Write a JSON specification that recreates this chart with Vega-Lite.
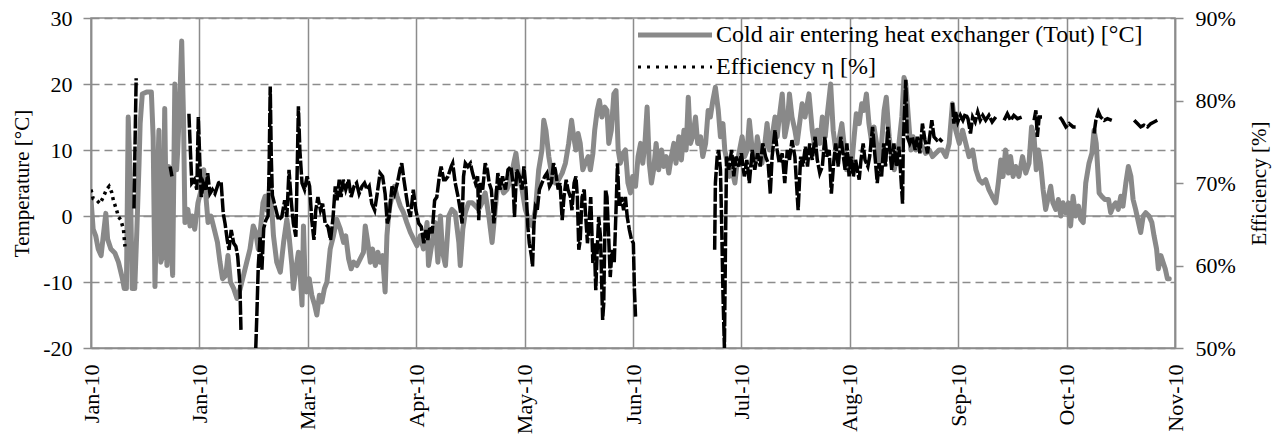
{
  "$schema": "https://vega.github.io/schema/vega-lite/v6.json",
  "width": 1084,
  "height": 330,
  "autosize": {"type": "none"},
  "padding": {"left": 91, "top": 18, "right": 108, "bottom": 90},
  "background": "white",
  "config": {
    "view": {"stroke": "#8c8c8c", "strokeWidth": 1.5},
    "font": "Liberation Serif",
    "axis": {
      "labelFont": "Liberation Serif", "titleFont": "Liberation Serif",
      "labelColor": "#000000", "titleColor": "#000000",
      "labelFontSize": 22, "titleFontSize": 21, "titleFontWeight": "normal",
      "domainColor": "#8c8c8c", "domainWidth": 1.5,
      "tickColor": "#8c8c8c", "tickWidth": 1.5, "tickSize": 8,
      "gridColor": "#8c8c8c", "gridWidth": 1.5, "labelFlush": false, "labelOverlap": false
    },
    "legend": {
      "labelFont": "Liberation Serif", "labelFontSize": 24, "labelColor": "#000000",
      "padding": 0, "labelLimit": 700
    }
  },
  "datasets": {
    "temp": [
      {"d":0,"t":2.5},{"d":0.6,"t":-2},{"d":1.3,"t":-3},{"d":2,"t":-5},{"d":2.8,"t":-6},{"d":3.4,"t":-3},{"d":4.1,"t":0.4},{"d":4.6,"t":-3.5},{"d":5.5,"t":-5},{"d":6.6,"t":-5.6},{"d":7.6,"t":-7},{"d":8.7,"t":-9.5},{"d":9.2,"t":-11},{"d":9.8,"t":-11},{"d":10.3,"t":15},{"d":10.9,"t":5},{"d":11.4,"t":-11},{"d":12.1,"t":-11},{"d":12.7,"t":-2},{"d":13.3,"t":8},{"d":13.6,"t":14},{"d":14.2,"t":18.5},{"d":15.4,"t":18.8},{"d":16.7,"t":18.8},{"d":17.2,"t":12},{"d":17.7,"t":-10.7},{"d":18.2,"t":2},{"d":18.8,"t":13},{"d":19.3,"t":-7},{"d":19.9,"t":-6},{"d":20.4,"t":16.3},{"d":21,"t":-7.5},{"d":21.5,"t":7.5},{"d":22.1,"t":-4},{"d":22.6,"t":-9},{"d":23.2,"t":20},{"d":23.7,"t":7},{"d":24,"t":10},{"d":24.6,"t":18},{"d":25.1,"t":26.5},{"d":25.6,"t":15},{"d":26,"t":-1},{"d":26.8,"t":1},{"d":27.4,"t":-1.5},{"d":28,"t":0},{"d":28.7,"t":-2},{"d":29.6,"t":2},{"d":30.5,"t":4},{"d":31.2,"t":7},{"d":31.8,"t":3},{"d":32.4,"t":-1},{"d":33.2,"t":0},{"d":34.1,"t":-2},{"d":35,"t":-4},{"d":35.7,"t":-7},{"d":36.4,"t":-9.5},{"d":37.3,"t":-9},{"d":37.9,"t":-6},{"d":38.6,"t":-10},{"d":39.5,"t":-11},{"d":40.4,"t":-12.5},{"d":41.3,"t":-11},{"d":42.2,"t":-9},{"d":43.1,"t":-7},{"d":44,"t":-5},{"d":44.9,"t":-1.5},{"d":45.6,"t":-2.5},{"d":46.3,"t":-5},{"d":46.9,"t":-2},{"d":47.6,"t":2},
      {"d":48.2,"t":3},{"d":48.7,"t":0.9},{"d":49.6,"t":5},{"d":50.5,"t":-3},{"d":51.4,"t":-7},{"d":52.4,"t":-8.5},{"d":53.3,"t":-4},{"d":54.2,"t":-0.5},{"d":54.8,"t":-3},{"d":55.6,"t":-7.5},{"d":56,"t":-11},{"d":56.7,"t":-8},{"d":57.4,"t":-5.5},{"d":57.9,"t":-9},{"d":58.4,"t":-13.5},{"d":58.8,"t":-1.5},{"d":59.3,"t":-10.5},{"d":59.7,"t":-11.5},{"d":60.4,"t":-9.5},{"d":61.1,"t":-12},{"d":61.9,"t":-13.5},{"d":62.5,"t":-15},{"d":63.2,"t":-12},{"d":63.9,"t":-13},{"d":64.6,"t":-11},{"d":65.3,"t":-10},{"d":66.2,"t":-5},{"d":67.1,"t":-3},{"d":68,"t":-0.5},{"d":69,"t":-2},{"d":69.9,"t":-4},{"d":70.5,"t":-3},{"d":71.3,"t":-6.5},{"d":72,"t":-8},{"d":72.7,"t":-7},{"d":73.6,"t":-7.5},{"d":74.5,"t":-6.5},{"d":75.4,"t":-5.5},{"d":75.9,"t":-1.5},{"d":76.6,"t":-4},{"d":77.3,"t":-7},{"d":77.9,"t":-5},{"d":78.7,"t":-7.5},{"d":79.4,"t":-5.5},{"d":80,"t":-7},{"d":80.7,"t":-6},{"d":81.4,"t":-11.5},{"d":81.9,"t":-3},{"d":82.5,"t":1},{"d":83.3,"t":3},{"d":84,"t":4.5},{"d":84.7,"t":3},{"d":85.6,"t":1.5},{"d":86.5,"t":0.5},{"d":87.4,"t":-1},{"d":88.4,"t":-2.5},{"d":89.3,"t":-3.5},{"d":90.2,"t":-4.5},{"d":91.1,"t":-3},{"d":92,"t":-5},{"d":93,"t":-1},{"d":93.4,"t":-7.5},{"d":94.4,"t":-4},{"d":95.3,"t":-1},{"d":96,"t":-7},{"d":96.7,"t":0},{"d":97.3,"t":-5.5},
      {"d":98.1,"t":-7.5},{"d":99,"t":0},{"d":99.9,"t":1},{"d":100.8,"t":0.5},{"d":101.8,"t":-4},{"d":102.2,"t":-7.5},{"d":102.9,"t":-2},{"d":103.6,"t":0.5},{"d":104.5,"t":2},{"d":105.5,"t":2},{"d":106.4,"t":1.5},{"d":107.3,"t":1},{"d":108.2,"t":2},{"d":109.1,"t":3.5},{"d":110.1,"t":0},{"d":111,"t":-4},{"d":111.7,"t":0},{"d":112.4,"t":4},{"d":113.3,"t":5},{"d":114.2,"t":3.5},{"d":115.1,"t":4},{"d":116.1,"t":5.5},{"d":117,"t":8},{"d":117.6,"t":9.5},{"d":118.4,"t":6},{"d":119.3,"t":4},{"d":120.2,"t":1},{"d":121.1,"t":-0.5},{"d":122.1,"t":-1.5},{"d":123,"t":1},{"d":123.9,"t":7},{"d":124.8,"t":10},{"d":125.3,"t":14.5},{"d":125.9,"t":13},{"d":126.7,"t":9},{"d":127.6,"t":6},{"d":128.5,"t":5},{"d":129.4,"t":5.5},{"d":130.4,"t":6.5},{"d":131.3,"t":8},{"d":132.2,"t":11},{"d":133,"t":14.5},{"d":133.6,"t":12},{"d":134.2,"t":10},{"d":134.8,"t":12.5},{"d":135.4,"t":11},{"d":136.1,"t":7},{"d":136.8,"t":8},{"d":137.6,"t":9},{"d":138.2,"t":7},{"d":138.9,"t":9.5},{"d":139.4,"t":13},{"d":140.1,"t":16},{"d":140.7,"t":17.5},{"d":141.4,"t":15},{"d":142.2,"t":16.5},{"d":142.8,"t":16},{"d":143.3,"t":11},{"d":144,"t":13},{"d":144.7,"t":18.5},{"d":145.3,"t":19},{"d":145.9,"t":10},{"d":146.5,"t":8},{"d":147.2,"t":9.5},
      {"d":147.9,"t":10},{"d":148.6,"t":5},{"d":149.3,"t":3.5},{"d":149.9,"t":6},{"d":150.7,"t":4.5},{"d":151.4,"t":9},{"d":152.1,"t":11},{"d":152.7,"t":8},{"d":153.3,"t":11},{"d":153.9,"t":16.5},{"d":154.5,"t":8},{"d":155.1,"t":5},{"d":155.7,"t":7},{"d":156.4,"t":11},{"d":157.1,"t":7},{"d":157.9,"t":10},{"d":158.5,"t":7.5},{"d":159.2,"t":9},{"d":159.9,"t":6.5},{"d":160.6,"t":9},{"d":161.3,"t":11},{"d":161.9,"t":8},{"d":162.7,"t":12},{"d":163.4,"t":8.5},{"d":164.1,"t":13},{"d":164.7,"t":10},{"d":165.3,"t":18},{"d":165.9,"t":11},{"d":166.5,"t":12},{"d":167.3,"t":15},{"d":167.9,"t":11},{"d":168.7,"t":12},{"d":169.3,"t":9},{"d":170.1,"t":11},{"d":170.8,"t":16},{"d":171.4,"t":15},{"d":172.1,"t":17.5},{"d":172.8,"t":19.5},{"d":173.6,"t":16},{"d":174.2,"t":12},{"d":174.9,"t":14},{"d":175.4,"t":10},{"d":176.1,"t":8},{"d":176.7,"t":6},{"d":177.4,"t":7},{"d":178.2,"t":5},{"d":178.8,"t":8},{"d":179.5,"t":10},{"d":180.2,"t":12},{"d":180.9,"t":9},{"d":181.6,"t":10},{"d":182.2,"t":14.5},{"d":183,"t":10},{"d":183.7,"t":8},{"d":184.4,"t":12},{"d":185,"t":10},{"d":185.7,"t":8},{"d":186.5,"t":11},{"d":187.1,"t":14},{"d":187.8,"t":10},{"d":188.5,"t":12},{"d":189.3,"t":15},{"d":189.9,"t":12},{"d":190.5,"t":15},{"d":191.3,"t":18.5},{"d":192,"t":12},{"d":192.7,"t":14},{"d":193.3,"t":18.5},{"d":194,"t":15},{"d":194.8,"t":13},{"d":195.4,"t":11},{"d":196.1,"t":14},{"d":196.8,"t":17},{"d":197.6,"t":15},
      {"d":198.7,"t":18.5},{"d":199.6,"t":13},{"d":200.4,"t":10},{"d":201,"t":13},{"d":201.7,"t":11},{"d":202.4,"t":15},{"d":203.2,"t":12},{"d":203.8,"t":15.5},{"d":204.7,"t":20},{"d":205.4,"t":13},{"d":206.1,"t":10},{"d":207,"t":11.5},{"d":207.8,"t":14},{"d":208.4,"t":11},{"d":209.1,"t":7},{"d":209.8,"t":9},{"d":210.5,"t":7.5},{"d":211.2,"t":12},{"d":211.8,"t":15.5},{"d":212.6,"t":14},{"d":213.3,"t":17},{"d":213.9,"t":16},{"d":214.6,"t":18.5},{"d":215.3,"t":14},{"d":216.1,"t":11},{"d":216.7,"t":13.5},{"d":217.4,"t":11},{"d":218.1,"t":8},{"d":218.8,"t":11},{"d":219.5,"t":16},{"d":220.1,"t":18},{"d":220.9,"t":12},{"d":221.6,"t":9},{"d":222.3,"t":7},{"d":222.9,"t":9},{"d":223.6,"t":11},{"d":224.4,"t":15},{"d":225,"t":21},{"d":225.5,"t":20},{"d":226.2,"t":15},{"d":226.9,"t":10},{"d":227.5,"t":12},{"d":228.3,"t":10},{"d":229.2,"t":11},{"d":230.1,"t":10.5},{"d":231,"t":9.5},{"d":232,"t":10},{"d":232.9,"t":9},{"d":233.8,"t":9.5},{"d":234.7,"t":10},{"d":235.6,"t":10},{"d":236.6,"t":9},{"d":237.5,"t":11},{"d":238.4,"t":17},{"d":239.3,"t":13},{"d":240.3,"t":11},{"d":241.2,"t":13},{"d":242.1,"t":11},{"d":243,"t":9},{"d":244,"t":10},{"d":244.9,"t":7},{"d":245.8,"t":5.5},{"d":246.7,"t":5},
      {"d":247.6,"t":5.5},{"d":248.5,"t":4},{"d":249.4,"t":3},{"d":250.4,"t":2},{"d":251.1,"t":5},{"d":251.8,"t":8.5},{"d":252.4,"t":6},{"d":253.1,"t":10},{"d":253.9,"t":6.5},{"d":254.5,"t":9},{"d":255.2,"t":6},{"d":255.9,"t":7.5},{"d":256.8,"t":6},{"d":257.8,"t":9},{"d":258.7,"t":6.5},{"d":259.6,"t":8},{"d":260.3,"t":13.5},{"d":261,"t":12},{"d":261.6,"t":7},{"d":262.2,"t":10},{"d":262.8,"t":8},{"d":263.5,"t":4},{"d":264.2,"t":1},{"d":265,"t":3},{"d":265.6,"t":4.5},{"d":266.2,"t":2},{"d":267,"t":1},{"d":267.7,"t":2.5},{"d":268.4,"t":0},{"d":269,"t":2},{"d":269.8,"t":0.5},{"d":270.5,"t":2},{"d":271.1,"t":-1.5},{"d":271.8,"t":3},{"d":272.5,"t":0},{"d":273.3,"t":1.5},{"d":273.9,"t":-0.5},{"d":274.6,"t":-1},{"d":275.3,"t":5},{"d":276.2,"t":8},{"d":277,"t":9.5},{"d":277.6,"t":13},{"d":278.2,"t":11},{"d":279,"t":3.5},{"d":279.7,"t":3},{"d":280.6,"t":2.5},{"d":281.6,"t":2.5},{"d":282.2,"t":0.5},{"d":282.9,"t":1.5},{"d":283.6,"t":2},{"d":284.3,"t":1},{"d":285,"t":3},{"d":285.6,"t":1.5},{"d":286.4,"t":5},{"d":287.1,"t":7.5},{"d":287.8,"t":6},{"d":288.4,"t":2.5},{"d":289.1,"t":1},{"d":289.9,"t":-1},{"d":290.5,"t":-2.5},{"d":291.2,"t":0},{"d":291.9,"t":0.5},{"d":292.8,"t":0},{"d":293.6,"t":-1},{"d":294.2,"t":-3},{"d":294.9,"t":-5},{"d":295.4,"t":-8},{"d":296.1,"t":-6},{"d":296.7,"t":-7},{"d":297.3,"t":-8},{"d":297.9,"t":-9.5},{"d":298.4,"t":-9.5}
    ],
    "eff": [
      {"d":0,"e":69.2,"g":1},{"d":0.6,"e":68.1,"g":1},{"d":1.6,"e":67.9,"g":1},{"d":2.5,"e":67.5,"g":1},{"d":3.4,"e":68.3,"g":1},{"d":4.3,"e":69.2,"g":1},{"d":5,"e":69.6,"g":1},{"d":5.7,"e":68.9,"g":1},{"d":6.2,"e":67.9,"g":1},{"d":7.1,"e":66.7,"g":1},{"d":7.6,"e":65.9,"g":1},{"d":8.3,"e":65.5,"g":1},{"d":9,"e":64.3,"g":1},{"d":9.4,"e":62.3,"g":1},
      {"d":11.9,"e":66.9,"g":2},{"d":12.2,"e":75,"g":2},{"d":12.5,"e":82.7,"g":2},
      {"d":21.9,"e":72,"g":3},{"d":22.4,"e":70.8,"g":3},
      {"d":27.1,"e":78.4,"g":4},{"d":27.5,"e":74,"g":4},{"d":27.9,"e":70,"g":4},{"d":28.6,"e":70.4,"g":4},{"d":29.3,"e":69.2,"g":4},{"d":29.7,"e":78,"g":4},{"d":30.1,"e":72.8,"g":4},{"d":30.5,"e":68.3,"g":4},{"d":31.1,"e":70,"g":4},{"d":31.8,"e":69.2,"g":4},{"d":32.3,"e":71.2,"g":4},{"d":32.9,"e":68.7,"g":4},{"d":33.6,"e":69.2,"g":4},{"d":34.3,"e":68.7,"g":4},{"d":35.3,"e":70,"g":4},{"d":36,"e":70.2,"g":4},{"d":36.6,"e":66.3,"g":4},{"d":37.1,"e":65.1,"g":4},{"d":37.7,"e":63.1,"g":4},{"d":38.2,"e":61.9,"g":4},{"d":38.8,"e":64.3,"g":4},{"d":39.5,"e":62.7,"g":4},{"d":40.1,"e":62.3,"g":4},{"d":40.6,"e":61.1,"g":4},{"d":41.2,"e":57.8,"g":4},{"d":41.5,"e":52.2,"g":4},
      {"d":45.6,"e":50,"g":5},{"d":45.9,"e":54,"g":5},{"d":46.3,"e":60,"g":5},{"d":46.8,"e":63.5,"g":5},{"d":47.3,"e":59.5,"g":5},{"d":47.8,"e":64.5,"g":5},{"d":48.4,"e":65.5,"g":5},{"d":49,"e":66,"g":5},{"d":49.3,"e":72,"g":5},{"d":49.6,"e":81.7,"g":5},{"d":49.9,"e":73,"g":5},{"d":50.2,"e":68.5,"g":5},{"d":51,"e":67.1,"g":5},{"d":51.9,"e":65.5,"g":5},{"d":52.8,"e":65.9,"g":5},{"d":53.6,"e":67.9,"g":5},{"d":54.2,"e":65.9,"g":5},{"d":54.8,"e":71.6,"g":5},{"d":55.4,"e":67.9,"g":5},{"d":56,"e":65.1,"g":5},{"d":56.7,"e":63.5,"g":5},{"d":57.1,"e":72.4,"g":5},{"d":57.4,"e":79.3,"g":5},{"d":57.8,"e":74,"g":5},{"d":58.4,"e":70,"g":5},{"d":59.1,"e":69.2,"g":5},{"d":59.8,"e":70.8,"g":5},{"d":60.5,"e":69.6,"g":5},{"d":61.1,"e":65.5,"g":5},{"d":61.7,"e":63.1,"g":5},{"d":62.2,"e":66.7,"g":5},{"d":62.8,"e":68.3,"g":5},{"d":63.5,"e":66.7,"g":5},{"d":64.1,"e":67.5,"g":5},{"d":64.8,"e":65.1,"g":5},{"d":65.6,"e":64.7,"g":5},{"d":66.3,"e":63.1,"g":5},{"d":67,"e":65.9,"g":5},{"d":67.6,"e":69.6,"g":5},{"d":68.1,"e":67.9,"g":5},{"d":68.7,"e":70.4,"g":5},{"d":69.2,"e":68.3,"g":5},{"d":69.8,"e":70.4,"g":5},{"d":70.5,"e":69.2,"g":5},{"d":71.3,"e":70.4,"g":5},{"d":72,"e":68.3,"g":5},{"d":72.8,"e":69.6,"g":5},{"d":73.5,"e":70,"g":5},{"d":74.2,"e":68.7,"g":5},{"d":75,"e":69.6,"g":5},{"d":75.7,"e":70,"g":5},{"d":76.4,"e":69.2,"g":5},{"d":77,"e":69.6,"g":5},{"d":77.7,"e":67.5,"g":5},{"d":78.5,"e":66.7,"g":5},{"d":79.2,"e":68.7,"g":5},{"d":80,"e":71.2,"g":5},{"d":80.7,"e":70.8,"g":5},{"d":81.4,"e":68.7,"g":5},{"d":82,"e":65.1,"g":5},{"d":82.5,"e":65.9,"g":5},{"d":83.3,"e":69.6,"g":5},{"d":84,"e":68.7,"g":5},{"d":84.8,"e":70,"g":5},{"d":85.5,"e":71.6,"g":5},{"d":86,"e":72.4,"g":5},{"d":86.6,"e":70.4,"g":5},{"d":87.3,"e":68.3,"g":5},{"d":87.9,"e":66.7,"g":5},{"d":88.4,"e":65.9,"g":5},{"d":89.2,"e":69.2,"g":5},{"d":89.9,"e":66.7,"g":5},{"d":90.7,"e":65.1,"g":5},{"d":91.4,"e":64.7,"g":5},{"d":92.1,"e":62.7,"g":5},{"d":92.7,"e":64.3,"g":5},{"d":93.2,"e":63.1,"g":5},{"d":93.8,"e":64.7,"g":5},{"d":94.4,"e":63.9,"g":5},{"d":95.1,"e":67.9,"g":5},{"d":95.7,"e":68.3,"g":5},{"d":96.4,"e":70.8,"g":5},{"d":96.9,"e":72,"g":5},{"d":97.6,"e":70.4,"g":5},
      {"d":98.1,"e":70.4,"g":5},{"d":98.8,"e":70.8,"g":5},{"d":99.7,"e":72,"g":5},{"d":100.1,"e":72.4,"g":5},{"d":100.8,"e":70,"g":5},{"d":101.6,"e":68.3,"g":5},{"d":102.2,"e":66.7,"g":5},{"d":102.7,"e":65.1,"g":5},{"d":103.1,"e":70.8,"g":5},{"d":103.6,"e":72.4,"g":5},{"d":104.3,"e":72,"g":5},{"d":105,"e":72.4,"g":5},{"d":105.6,"e":71.2,"g":5},{"d":106.4,"e":70,"g":5},{"d":107,"e":70.8,"g":5},{"d":107.3,"e":65.5,"g":5},{"d":107.8,"e":70,"g":5},{"d":108.4,"e":69.2,"g":5},{"d":109.1,"e":72.4,"g":5},{"d":109.7,"e":71.6,"g":5},{"d":110.2,"e":70,"g":5},{"d":110.8,"e":69.2,"g":5},{"d":111.5,"e":65.1,"g":5},{"d":112.1,"e":68.3,"g":5},{"d":112.6,"e":71.2,"g":5},{"d":113.2,"e":69.2,"g":5},{"d":113.9,"e":70.8,"g":5},{"d":114.7,"e":69.2,"g":5},{"d":115.4,"e":71.6,"g":5},{"d":116.2,"e":72,"g":5},{"d":116.8,"e":70,"g":5},{"d":117.2,"e":65.9,"g":5},{"d":117.8,"e":71.6,"g":5},{"d":118.6,"e":70.8,"g":5},{"d":119.3,"e":69.2,"g":5},{"d":119.8,"e":72,"g":5},{"d":120.4,"e":69.2,"g":5},{"d":120.9,"e":64.7,"g":5},{"d":121.3,"e":62.7,"g":5},{"d":121.9,"e":61.1,"g":5},{"d":122.2,"e":59.9,"g":5},{"d":122.6,"e":65.1,"g":5},{"d":123,"e":67.1,"g":5},{"d":123.5,"e":66.7,"g":5},{"d":124.1,"e":69.2,"g":5},{"d":124.8,"e":70,"g":5},{"d":125.6,"e":70.8,"g":5},{"d":126.2,"e":71.2,"g":5},{"d":126.9,"e":69.6,"g":5},{"d":127.4,"e":70,"g":5},{"d":128,"e":72.4,"g":5},{"d":128.5,"e":71.6,"g":5},{"d":129.3,"e":69.2,"g":5},{"d":129.8,"e":70,"g":5},{"d":130.4,"e":65.5,"g":5},{"d":130.9,"e":68.3,"g":5},{"d":131.5,"e":70.4,"g":5},{"d":132,"e":69.2,"g":5},{"d":132.7,"e":68.3,"g":5},{"d":133.1,"e":66.7,"g":5},{"d":133.7,"e":70,"g":5},{"d":134.2,"e":70.8,"g":5},{"d":134.6,"e":68.3,"g":5},{"d":135,"e":61.9,"g":5},{"d":135.4,"e":63.1,"g":5},{"d":135.9,"e":68.3,"g":5},{"d":136.5,"e":69.2,"g":5},{"d":136.8,"e":66.7,"g":5},{"d":137.4,"e":62.7,"g":5},{"d":137.8,"e":64.7,"g":5},{"d":138.3,"e":68.3,"g":5},{"d":138.9,"e":60.3,"g":5},{"d":139.3,"e":62.7,"g":5},{"d":139.7,"e":57,"g":5},{"d":140.1,"e":61.9,"g":5},{"d":140.5,"e":65.9,"g":5},{"d":141,"e":63.5,"g":5},{"d":141.6,"e":53.4,"g":5},{"d":141.9,"e":55.4,"g":5},{"d":142.4,"e":69.2,"g":5},{"d":142.8,"e":68.3,"g":5},{"d":143.3,"e":63.1,"g":5},{"d":143.7,"e":58.6,"g":5},{"d":144.2,"e":61.9,"g":5},{"d":144.8,"e":60.3,"g":5},{"d":145.3,"e":66.7,"g":5},{"d":145.7,"e":72.4,"g":5},{"d":146.2,"e":67.1,"g":5},{"d":146.8,"e":68.3,"g":5},{"d":147.4,"e":66.7,"g":5},{"d":147.9,"e":68.3,"g":5},{"d":148.4,"e":65.9,"g":5},{"d":149,"e":64.3,"g":5},{"d":149.6,"e":63.1,"g":5},{"d":150.1,"e":62.7,"g":5},{"d":150.4,"e":57,"g":5},{"d":150.7,"e":53.8,"g":5},
      {"d":172.6,"e":61.9,"g":6},{"d":172.8,"e":70,"g":6},{"d":173.3,"e":73.2,"g":6},{"d":173.7,"e":74,"g":6},{"d":174.2,"e":71.6,"g":6},{"d":174.5,"e":65.9,"g":6},{"d":174.9,"e":56.6,"g":6},{"d":175.3,"e":50,"g":6},{"d":175.6,"e":62.7,"g":6},{"d":175.9,"e":73.2,"g":6},{"d":176.5,"e":71.6,"g":6},{"d":177.3,"e":74,"g":6},{"d":177.9,"e":70.8,"g":6},{"d":178.5,"e":73.2,"g":6},{"d":179.3,"e":72,"g":6},{"d":180,"e":73.6,"g":6},{"d":180.8,"e":70.8,"g":6},{"d":181.5,"e":72.8,"g":6},{"d":182.2,"e":70,"g":6},{"d":183,"e":74,"g":6},{"d":183.7,"e":71.6,"g":6},{"d":184.5,"e":73.6,"g":6},{"d":185.2,"e":72,"g":6},{"d":185.9,"e":74.8,"g":6},{"d":186.7,"e":73.2,"g":6},{"d":187.4,"e":72.4,"g":6},{"d":188,"e":68.7,"g":6},{"d":188.5,"e":73.2,"g":6},{"d":189.3,"e":76.4,"g":6},{"d":189.9,"e":74,"g":6},{"d":190.5,"e":72.4,"g":6},{"d":191.3,"e":73.6,"g":6},{"d":192,"e":70,"g":6},{"d":192.7,"e":74,"g":6},{"d":193.3,"e":72.8,"g":6},{"d":194,"e":75.2,"g":6},{"d":194.8,"e":73.2,"g":6},{"d":195.7,"e":66.7,"g":6},{"d":196.4,"e":73.2,"g":6},{"d":197,"e":72,"g":6},{"d":197.7,"e":74.4,"g":6},{"d":198.3,"e":72,"g":6},{"d":198.9,"e":74.8,"g":6},{"d":199.6,"e":72.8,"g":6},{"d":200.4,"e":75.6,"g":6},{"d":201,"e":72.8,"g":6},{"d":201.7,"e":71.2,"g":6},{"d":202.4,"e":72,"g":6},{"d":203.1,"e":75.6,"g":6},{"d":203.6,"e":73.2,"g":6},{"d":204.3,"e":74,"g":6},{"d":204.9,"e":68.7,"g":6},{"d":205.6,"e":72.8,"g":6},{"d":206.1,"e":74.8,"g":6},{"d":206.8,"e":72,"g":6},{"d":207.5,"e":75.6,"g":6},{"d":208.1,"e":73.6,"g":6},{"d":208.7,"e":71.6,"g":6},{"d":209.2,"e":74.8,"g":6},{"d":209.8,"e":70.8,"g":6},{"d":210.4,"e":73.2,"g":6},{"d":211,"e":70.8,"g":6},{"d":211.6,"e":72.8,"g":6},{"d":212.6,"e":70.4,"g":6},{"d":213.1,"e":72.8,"g":6},{"d":213.7,"e":74.8,"g":6},{"d":214.2,"e":72.8,"g":6},{"d":215,"e":72,"g":6},{"d":215.5,"e":73.2,"g":6},{"d":216.3,"e":76.8,"g":6},{"d":216.9,"e":73.6,"g":6},{"d":217.6,"e":70,"g":6},{"d":218.1,"e":72.4,"g":6},{"d":218.8,"e":70.8,"g":6},{"d":219.4,"e":74.8,"g":6},{"d":219.9,"e":72,"g":6},{"d":220.5,"e":76.8,"g":6},{"d":221.1,"e":74,"g":6},{"d":221.6,"e":71.6,"g":6},{"d":222.2,"e":74.8,"g":6},{"d":222.9,"e":72,"g":6},{"d":223.6,"e":74.4,"g":6},{"d":224.6,"e":67.5,"g":6},{"d":224.8,"e":74.8,"g":6},{"d":225.5,"e":82.5,"g":6},{"d":225.9,"e":75.6,"g":6},{"d":226.6,"e":74.8,"g":6},{"d":227.3,"e":75.6,"g":6},{"d":228.1,"e":74,"g":6},{"d":228.7,"e":75.6,"g":6},{"d":229.4,"e":73.6,"g":6},{"d":230.1,"e":77.2,"g":6},{"d":230.8,"e":75.2,"g":6},{"d":231.5,"e":73.6,"g":6},{"d":232.1,"e":75.6,"g":6},{"d":232.7,"e":77.6,"g":6},{"d":233.3,"e":75.6,"g":6},{"d":234.1,"e":75.2,"g":6},{"d":234.7,"e":75.4,"g":6},{"d":235.6,"e":75,"g":6},
      {"d":238.4,"e":79.7,"g":7},{"d":238.8,"e":77.2,"g":7},{"d":239.3,"e":78.6,"g":7},{"d":239.9,"e":77.4,"g":7},{"d":240.6,"e":78.2,"g":7},{"d":241.3,"e":77.6,"g":7},{"d":242,"e":78.4,"g":7},{"d":242.7,"e":77.8,"g":7},{"d":243.4,"e":76,"g":7},{"d":244,"e":78,"g":7},{"d":244.7,"e":77.4,"g":7},{"d":245.4,"e":78.6,"g":7},{"d":246.1,"e":77.6,"g":7},{"d":246.8,"e":78.2,"g":7},{"d":247.6,"e":77.6,"g":7},{"d":248.5,"e":78.2,"g":7},{"d":249.4,"e":77.4,"g":7},{"d":250.4,"e":78,"g":7},
      {"d":252.7,"e":77.6,"g":8},{"d":253.6,"e":78.4,"g":8},{"d":254.5,"e":77.6,"g":8},{"d":255.4,"e":78.2,"g":8},{"d":256.4,"e":77.8,"g":8},{"d":257.6,"e":78,"g":8},
      {"d":261,"e":77.6,"g":9},{"d":261.5,"e":78.8,"g":9},{"d":261.9,"e":75.6,"g":9},{"d":262.4,"e":78,"g":9},{"d":263.2,"e":78,"g":9},
      {"d":268.1,"e":78,"g":10},{"d":268.8,"e":77.6,"g":10},{"d":269.8,"e":76.8,"g":10},{"d":270.7,"e":77.2,"g":10},{"d":271.8,"e":76.8,"g":10},{"d":272.5,"e":76.8,"g":10},
      {"d":277.6,"e":76,"g":11},{"d":278.1,"e":77.6,"g":11},{"d":278.8,"e":78.6,"g":11},{"d":279.4,"e":78,"g":11},{"d":280.4,"e":77.6,"g":11},{"d":281.3,"e":77.8,"g":11},{"d":282.5,"e":77.6,"g":11},
      {"d":288.7,"e":77.6,"g":12},{"d":289.6,"e":77.2,"g":12},{"d":290.5,"e":76.8,"g":12},{"d":291.4,"e":77,"g":12},{"d":292.4,"e":76.8,"g":12},{"d":293.3,"e":77.2,"g":12},{"d":294.2,"e":77.4,"g":12},{"d":295.1,"e":77.6,"g":12}
    ]
  },
  "layer": [
    {
      "layer": [
        {
          "data": {"values": [{"z": 0}]},
          "mark": {"type": "rule", "color": "#8c8c8c", "strokeWidth": 1.5},
          "encoding": {
            "y": {"field": "z", "type": "quantitative", "title": "Temperature [°C]",
                  "scale": {"domain": [-20, 30], "nice": false, "zero": false}}
          }
        },
        {
          "data": {"name": "temp"},
          "mark": {"type": "line", "strokeWidth": 5, "strokeJoin": "round", "strokeCap": "round", "clip": true},
          "encoding": {
            "x": {"field": "d", "type": "quantitative", "title": null,
                  "scale": {"domain": [0, 300], "nice": false, "zero": false},
                  "axis": {"values": [0,30,60,90,120,150,180,210,240,270,300], "labelAngle": 270, "ticks": false, "labelPadding": 16,
                           "labelExpr": "['Jan-10','Jan-10','Mar-10','Apr-10','May-10','Jun-10','Jul-10','Aug-10','Sep-10','Oct-10','Nov-10'][round(datum.value/30)]",
                           "grid": true}},
            "y": {"field": "t", "type": "quantitative", "title": "Temperature [°C]",
                  "scale": {"domain": [-20, 30], "nice": false, "zero": false},
                  "axis": {"values": [-20,-10,0,10,20,30], "labelExpr": "'' + datum.value", "grid": true, "gridDash": [8,5],
                           "labelPadding": 11, "titlePadding": 10}},
            "color": {"datum": "Cold air entering  heat exchanger (Tout) [°C]", "type": "nominal",
                      "scale": {"domain": ["Cold air entering  heat exchanger (Tout) [°C]", "Efficiency η [%]"], "range": ["#898989", "#000000"]},
                      "legend": {"title": null, "orient": "none", "legendX": 546, "legendY": 5,
                                 "symbolType": "stroke", "symbolSize": 5476, "symbolStrokeWidth": 5, "symbolOffset": 26,
                                 "labelOffset": 29, "rowPadding": 8, "labelFont": "Liberation Serif", "labelFontSize": 24,
                                 "encode": {"symbols": {"update": {
                                   "strokeDash": {"signal": "datum.label == 'Efficiency η [%]' ? [3,6] : [1,0]"},
                                   "strokeWidth": {"signal": "datum.label == 'Efficiency η [%]' ? 3 : 5"}}}}}}
          }
        }
      ]
    },
    {
      "data": {"name": "eff"},
      "layer": [
        {
          "transform": [{"filter": "datum.g == 1"}],
          "mark": {"type": "line", "strokeWidth": 3.5, "strokeDash": [3, 4], "clip": true},
          "encoding": {
            "x": {"field": "d", "type": "quantitative", "title": null, "scale": {"domain": [0, 300], "nice": false, "zero": false}},
            "y": {"field": "e", "type": "quantitative", "title": "Efficiency [%]", "scale": {"domain": [50, 90], "nice": false, "zero": false}},
            "detail": {"field": "g", "type": "nominal"},
            "color": {"datum": "Efficiency η [%]", "type": "nominal"}
          }
        },
        {
          "transform": [{"filter": "datum.g > 1"}],
          "mark": {"type": "line", "strokeWidth": 3.5, "strokeDash": [14, 2], "clip": true},
          "encoding": {
            "x": {"field": "d", "type": "quantitative", "title": null, "scale": {"domain": [0, 300], "nice": false, "zero": false}},
            "y": {"field": "e", "type": "quantitative", "title": "Efficiency [%]",
                  "scale": {"domain": [50, 90], "nice": false, "zero": false},
                  "axis": {"orient": "right", "values": [50,60,70,80,90], "labelExpr": "datum.value + '%'", "grid": false,
                           "labelPadding": 12, "titleAngle": 270, "titlePadding": 34}},
            "detail": {"field": "g", "type": "nominal"},
            "color": {"datum": "Efficiency η [%]", "type": "nominal"}
          }
        }
      ]
    }
  ],
  "resolve": {"scale": {"y": "independent"}}
}
